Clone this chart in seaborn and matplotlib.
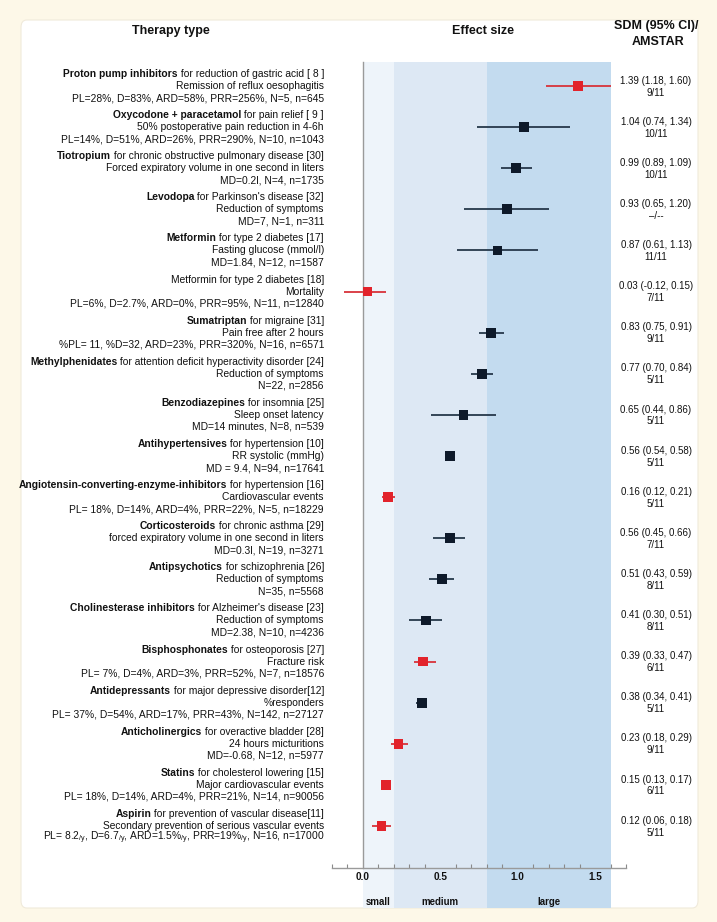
import matplotlib
matplotlib.use("Agg")
import matplotlib.pyplot as plt
import matplotlib.patches as mpatches
from matplotlib.ticker import MultipleLocator
import pandas as pd
import seaborn as sns

# ── Data ──────────────────────────────────────────────────────────────────────
drug = [
    "Proton pump inhibitors", "Oxycodone + paracetamol", "Tiotropium", "Levodopa",
    "Metformin", "", "Sumatriptan", "Methylphenidates", "Benzodiazepines",
    "Antihypertensives", "Angiotensin-converting-enzyme-inhibitors", "Corticosteroids",
    "Antipsychotics", "Cholinesterase inhibitors", "Bisphosphonates", "Antidepressants",
    "Anticholinergics", "Statins", "Aspirin",
]
indication = [
    " for reduction of gastric acid [ 8 ]", " for pain relief [ 9 ]",
    " for chronic obstructive pulmonary disease [30]", " for Parkinson's disease [32]",
    " for type 2 diabetes [17]", "Metformin for type 2 diabetes [18]", " for migraine [31]",
    " for attention deficit hyperactivity disorder [24]", " for insomnia [25]",
    " for hypertension [10]", " for hypertension [16]", " for chronic asthma [29]",
    " for schizophrenia [26]", " for Alzheimer's disease [23]", " for osteoporosis [27]",
    " for major depressive disorder[12]", " for overactive bladder [28]",
    " for cholesterol lowering [15]", " for prevention of vascular disease[11]",
]
outcome = [
    "Remission of reflux oesophagitis", "50% postoperative pain reduction in 4-6h",
    "Forced expiratory volume in one second in liters", "Reduction of symptoms",
    "Fasting glucose (mmol/l)", "Mortality", "Pain free after 2 hours",
    "Reduction of symptoms", "Sleep onset latency", "RR systolic (mmHg)",
    "Cardiovascular events", "forced expiratory volume in one second in liters",
    "Reduction of symptoms", "Reduction of symptoms", "Fracture risk", "%responders",
    "24 hours micturitions", "Major cardiovascular events",
    "Secondary prevention of serious vascular events",
]
stats = [
    "PL=28%, D=83%, ARD=58%, PRR=256%, N=5, n=645",
    "PL=14%, D=51%, ARD=26%, PRR=290%, N=10, n=1043",
    "MD=0.2l, N=4, n=1735",
    "MD=7, N=1, n=311",
    "MD=1.84, N=12, n=1587",
    "PL=6%, D=2.7%, ARD=0%, PRR=95%, N=11, n=12840",
    "%PL= 11, %D=32, ARD=23%, PRR=320%, N=16, n=6571",
    "N=22, n=2856",
    "MD=14 minutes, N=8, n=539",
    "MD = 9.4, N=94, n=17641",
    "PL= 18%, D=14%, ARD=4%, PRR=22%, N=5, n=18229",
    "MD=0.3l, N=19, n=3271",
    "N=35, n=5568",
    "MD=2.38, N=10, n=4236",
    "PL= 7%, D=4%, ARD=3%, PRR=52%, N=7, n=18576",
    "PL= 37%, D=54%, ARD=17%, PRR=43%, N=142, n=27127",
    "MD=-0.68, N=12, n=5977",
    "PL= 18%, D=14%, ARD=4%, PRR=21%, N=14, n=90056",
    r"PL= 8.2$_\mathrm{/y}$, D=6.7$_\mathrm{/y}$, ARD=1.5%$_\mathrm{/y}$, PRR=19%$_\mathrm{/y}$, N=16, n=17000",
]
sdm = [1.39, 1.04, 0.99, 0.93, 0.87, 0.03, 0.83, 0.77, 0.65, 0.56,
       0.16, 0.56, 0.51, 0.41, 0.39, 0.38, 0.23, 0.15, 0.12]
ci_low = [1.18, 0.74, 0.89, 0.65, 0.61, -0.12, 0.75, 0.70, 0.44, 0.54,
          0.12, 0.45, 0.43, 0.30, 0.33, 0.34, 0.18, 0.13, 0.06]
ci_high = [1.60, 1.34, 1.09, 1.20, 1.13, 0.15, 0.91, 0.84, 0.86, 0.58,
           0.21, 0.66, 0.59, 0.51, 0.47, 0.41, 0.29, 0.17, 0.18]
amstar = ["9/11", "10/11", "10/11", "–/--", "11/11", "7/11", "9/11", "5/11", "5/11", "5/11",
          "5/11", "7/11", "8/11", "8/11", "6/11", "5/11", "9/11", "6/11", "5/11"]
highlight = [1, 0, 0, 0, 0, 1, 0, 0, 0, 0, 1, 0, 0, 0, 1, 0, 1, 1, 1]

bands = [(0.0, 0.2, "small"), (0.2, 0.8, "medium"), (0.8, 1.6, "large")]
band_colors = ["#eef4fa", "#dde8f4", "#c3dbef"]
axis_ticks = [0.0, 0.5, 1.0, 1.5]

df = pd.DataFrame({"sdm": sdm, "lo": ci_low, "hi": ci_high})
df["row"] = range(len(df))
df["group"] = ["red" if h else "dark" for h in highlight]

marker_colors = {"red": "#e2232b", "dark": "#0e1a2a"}
line_colors = {"red": "#d8333a", "dark": "#26384a"}

# ── Style ─────────────────────────────────────────────────────────────────────
sns.set_theme(style="white")
plt.rcParams["font.family"] = ["Liberation Sans", "DejaVu Sans"]
plt.rcParams["mathtext.fontset"] = "custom"
plt.rcParams["mathtext.rm"] = "Liberation Sans"
plt.rcParams["text.color"] = "#111111"

W, H = 717, 922
fig = plt.figure(figsize=(W / 100, H / 100), dpi=100)
fig.patch.set_facecolor("#fdf8e8")

card = mpatches.FancyBboxPatch(
    (21 / W, 14 / H), (698 - 21) / W, (908 - 20) / H,
    boxstyle="round,pad=0,rounding_size=0.008",
    transform=fig.transFigure, fc="white", ec="#f0eadb", lw=0.8, zorder=-10)
fig.add_artist(card)

ax = fig.add_axes([332 / W, 14 / H, 294 / W, 846 / H])
ax.set_facecolor("none")

for (lo, hi, name), c in zip(bands, band_colors):
    ax.axvspan(lo, hi, color=c, lw=0, zorder=0)

ax.hlines(df["row"], df["lo"], df["hi"], colors=df["group"].map(line_colors),
          lw=1.3, zorder=2)
sns.scatterplot(data=df, x="sdm", y="row", hue="group", palette=marker_colors,
                marker="s", s=50, linewidth=0, legend=False, ax=ax, zorder=3)

y_top, y_bot, y_axis = -0.584, 19.995, 19.02
ax.set_xlim(-0.2, 1.7)
ax.set_ylim(y_bot, y_top)
ax.set(xlabel="", ylabel="")
ax.set_yticks([])

for s in ["top", "right"]:
    ax.spines[s].set_visible(False)
ax.spines["left"].set_position(("data", 0))
ax.spines["left"].set_bounds(y_top, y_axis)
ax.spines["bottom"].set_position(("data", y_axis))
for s in ["left", "bottom"]:
    ax.spines[s].set_color("#9a9a9a")
    ax.spines[s].set_linewidth(1.0)

ax.set_xticks(axis_ticks)
ax.xaxis.set_minor_locator(MultipleLocator(0.1))
ax.tick_params(axis="x", which="both", direction="in", color="#8a8a8a",
               width=0.8, labelsize=7.2, pad=3, labelcolor="#111111")
ax.tick_params(axis="x", which="major", length=4)
ax.tick_params(axis="x", which="minor", length=3, bottom=True)
ax.xaxis.set_major_formatter(matplotlib.ticker.FormatStrFormatter("%.1f"))
for lbl in ax.get_xticklabels():
    lbl.set_fontweight("bold")

for lo, hi, name in bands:
    ax.text((lo + hi) / 2, 19.85, name, ha="center", va="center",
            fontsize=6.9, fontweight="bold")

# ── Left text blocks and right column ─────────────────────────────────────────
x_left, x_right = -0.252, 1.894
dy = 0.292
fs = 7.4
for i in range(len(df)):
    y = df["row"][i]
    t = ax.text(x_left, y - dy, indication[i], ha="right", va="center", fontsize=fs)
    if drug[i]:
        ax.annotate(drug[i], xy=(0, 0.5), xycoords=t, ha="right", va="center",
                    fontsize=fs, fontweight="bold")
    ax.text(x_left, y, outcome[i], ha="right", va="center", fontsize=fs)
    ax.text(x_left, y + dy, stats[i], ha="right", va="center", fontsize=fs)

    ax.text(x_right, y - 0.13,
            f"{sdm[i]:.2f} ({ci_low[i]:.2f}, {ci_high[i]:.2f})",
            ha="center", va="center", fontsize=7.0)
    ax.text(x_right, y + 0.16, amstar[i], ha="center", va="center", fontsize=7.0)

# ── Headers ───────────────────────────────────────────────────────────────────
fig.text(171 / W, 1 - 31 / H, "Therapy type", ha="center", va="center",
         fontsize=9, fontweight="bold")
fig.text(483 / W, 1 - 31 / H, "Effect size", ha="center", va="center",
         fontsize=9, fontweight="bold")
fig.text(656 / W, 1 - 26 / H, "SDM (95% CI)/", ha="center", va="center",
         fontsize=9, fontweight="bold")
fig.text(658 / W, 1 - 42 / H, "AMSTAR", ha="center", va="center",
         fontsize=9, fontweight="bold")

fig.savefig("out.png", dpi=100)
